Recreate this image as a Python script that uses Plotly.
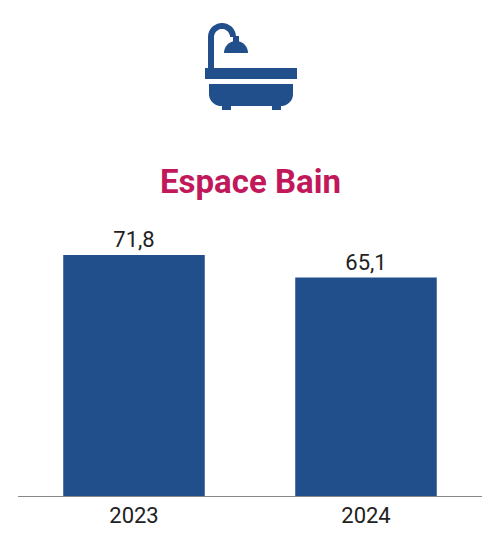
import plotly.graph_objects as go
import numpy as np

years = ["2023", "2024"]
values = [71.8, 65.1]
labels = ["71,8", "65,1"]
title = "Espace Bain"

BLUE = "#204F8C"
OFF = 8
L, R, T, B = 18 - OFF, 18 + OFF, 200 - OFF, 45 + OFF
W, H = 500, 541
PW, PH = W - L - R, H - T - B

def px(x, y):
    x, y = x - OFF, y - OFF
    return (x - L) / PW, (H - B - y) / PH

def path(pts):
    s = ""
    for i, (x, y) in enumerate(pts):
        a, b = px(x, y)
        s += ("M" if i == 0 else "L") + f"{a:.5f},{b:.5f} "
    return s + "Z"

def rect(x0, y0, x1, y1):
    return path([(x0, y0), (x1, y0), (x1, y1), (x0, y1)])

shapes = []
def add(p):
    shapes.append(dict(type="path", xref="paper", yref="paper", path=p,
                       fillcolor=BLUE, line=dict(width=0)))

add(rect(208, 36, 214, 69))
t = np.linspace(np.pi, 0, 30)
cx, cy = 222, 37
outer = [(cx + 14 * np.cos(a), cy - 14 * np.sin(a)) for a in t]
inner = [(cx + 8 * np.cos(a), cy - 8 * np.sin(a)) for a in t[::-1]]
add(path(outer + inner))
add(rect(233, 36, 239, 42))
t2 = np.linspace(np.pi, 0, 30)
head = [(236 + 12 * np.cos(a), 53 - 12 * np.sin(a)) for a in t2]
add(path(head))
add(rect(205, 68, 297, 79))
tb = [(209, 84), (293, 84), (293, 94)]
t3 = np.linspace(0, np.pi / 2, 12)
tb += [(281 + 12 * np.cos(a), 94 + 12 * np.sin(a)) for a in t3]
tb += [(221 + 12 * np.cos(a + np.pi / 2), 94 + 12 * np.sin(a + np.pi / 2)) for a in t3]
add(path(tb))
add(rect(222, 104, 231, 110))
add(rect(272, 104, 281, 110))

fig = go.Figure(go.Bar(
    x=[0, 1], y=values, width=0.61, marker=dict(color=BLUE, line=dict(width=0)),
    text=labels, textposition="outside", cliponaxis=False,
    textfont=dict(family="Roboto", size=22, color="#222"),
))
fig.update_layout(
    width=W, height=H, margin=dict(l=L, r=R, t=T, b=B),
    paper_bgcolor="white", plot_bgcolor="white", showlegend=False,
    shapes=shapes,
    xaxis=dict(range=[-0.5, 1.5], tickvals=[0, 1], ticktext=years,
               tickfont=dict(family="Roboto", size=22, color="#222"),
               showgrid=False, zeroline=False, showline=True,
               linecolor="#888", linewidth=1, ticks=""),
    yaxis=dict(range=[0, 88.2], visible=False),
    annotations=[dict(text=f"<b>{title}</b>", xref="paper", yref="paper",
                      x=px(250, 0)[0], y=px(0, 160)[1], showarrow=False,
                      font=dict(family="Roboto", size=33, color="#C0185A"))],
)
fig.write_html("out.html")
